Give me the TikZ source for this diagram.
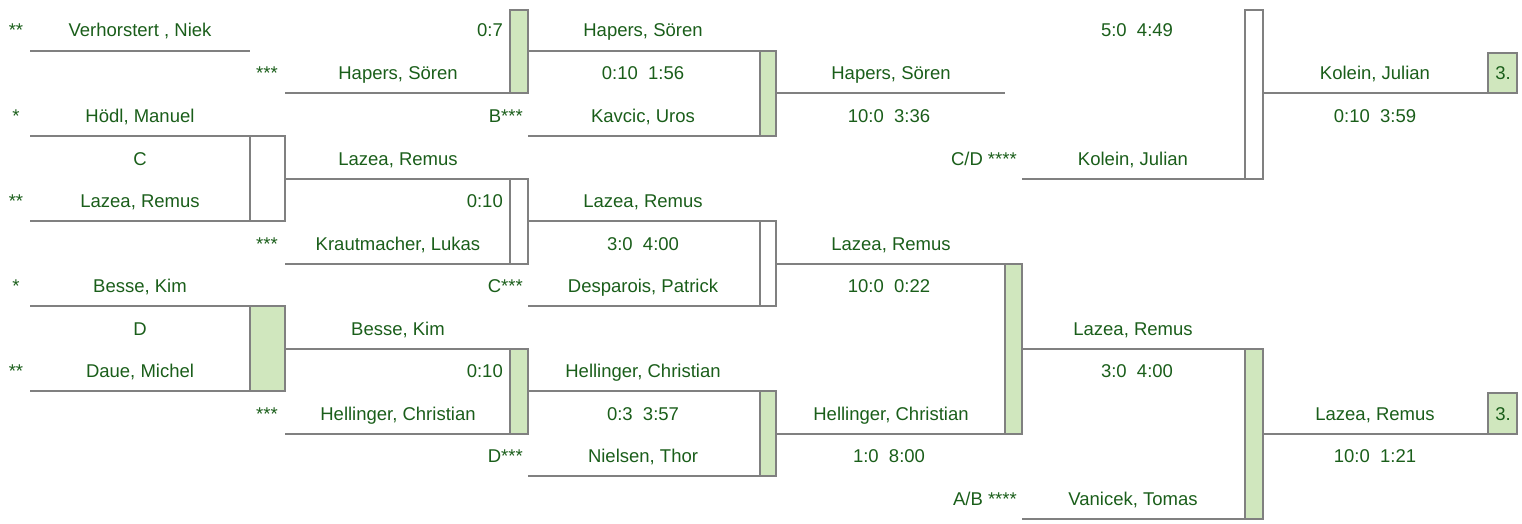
\documentclass[tikz,border=0pt]{standalone}
\usepackage{fontspec}
\setmainfont{Liberation Sans}
\definecolor{tc}{HTML}{1A5E1A}
\definecolor{lc}{HTML}{808080}
\definecolor{gf}{HTML}{D0E7BE}
\newcommand\slotline[4]{\coordinate (#1a) at (#2,#4); \coordinate (#1b) at (#3,#4); \draw[ln] (#1a) -- (#1b);}
\begin{document}
\begin{tikzpicture}[x=1pt,y=-1pt,
  t/.style={anchor=base,text=tc,inner sep=0pt,font=\fontsize{18.5}{22}\selectfont},
  te/.style={t,anchor=base east},
  ln/.style={draw=lc,line width=2pt},
  wbox/.style={draw=lc,line width=2pt,fill=white},
  gbox/.style={draw=lc,line width=2pt,fill=gf}]
\path[use as bounding box] (0,0) rectangle (1522,524);

% ---- bracket boxes ----
\draw[wbox] (250,136) rectangle (285,221);
\draw[gbox] (250,306) rectangle (285,391);
\draw[gbox] (510,10) rectangle (528,93.5);
\draw[wbox] (510,178.5) rectangle (528,263.5);
\draw[gbox] (510,348.5) rectangle (528,433.5);
\draw[gbox] (760,51) rectangle (776,136);
\draw[wbox] (760,221) rectangle (776,306);
\draw[gbox] (760,391) rectangle (776,476);
\draw[gbox] (1005,263.5) rectangle (1022,433.5);
\draw[wbox] (1245,10) rectangle (1263,178.5);
\draw[gbox] (1245,348.5) rectangle (1263,518.5);
\draw[gbox] (1488,53) rectangle (1517,93.5);
\draw[gbox] (1488,393) rectangle (1517,433.5);

% ---- slot lines ----
\slotline{r1s1}{30}{250}{51}
\slotline{r1s2}{30}{250}{136}
\slotline{r1s3}{30}{250}{221}
\slotline{r1s4}{30}{250}{306}
\slotline{r1s5}{30}{250}{391}
\slotline{r2s1}{285}{510}{93.5}
\slotline{r2s2}{285}{510}{178.5}
\slotline{r2s3}{285}{510}{263.5}
\slotline{r2s4}{285}{510}{348.5}
\slotline{r2s5}{285}{510}{433.5}
\slotline{r3s1}{528}{760}{51}
\slotline{r3s2}{528}{760}{136}
\slotline{r3s3}{528}{760}{221}
\slotline{r3s4}{528}{760}{306}
\slotline{r3s5}{528}{760}{391}
\slotline{r3s6}{528}{760}{476}
\slotline{r4s1}{776}{1005}{93.5}
\slotline{r4s2}{776}{1005}{263.5}
\slotline{r4s3}{776}{1005}{433.5}
\slotline{r5s1}{1022}{1245}{178.5}
\slotline{r5s2}{1022}{1245}{348.5}
\slotline{r5s3}{1022}{1245}{518.5}
\slotline{r6s1}{1263}{1488}{93.5}
\slotline{r6s2}{1263}{1488}{433.5}

% ---- round 1 ----
\node[t] (a1) at (16,37) {**};
\node[t] (n1) at (140,37) {Verhorstert , Niek};
\node[t] (a2) at (16,122) {*};
\node[t] (n2) at (140,122) {Hödl, Manuel};
\node[t] (gc) at (140,165) {C};
\node[t] (a3) at (16,207) {**};
\node[t] (n3) at (140,207) {Lazea, Remus};
\node[t] (a4) at (16,292) {*};
\node[t] (n4) at (140,292) {Besse, Kim};
\node[t] (gd) at (140,335) {D};
\node[t] (a5) at (16,377) {**};
\node[t] (n5) at (140,377) {Daue, Michel};

% ---- round 2 ----
\node[te] (s21) at (503,37) {0:7};
\node[t] (b1) at (267,80) {***};
\node[t] (m1) at (398,80) {Hapers, Sören};
\node[te] (q1) at (523,122) {B***};
\node[t] (m2) at (398,165) {Lazea, Remus};
\node[te] (s22) at (503,207) {0:10};
\node[t] (b2) at (267,250) {***};
\node[t] (m3) at (398,250) {Krautmacher, Lukas};
\node[te] (q2) at (523,292) {C***};
\node[t] (m4) at (398,335) {Besse, Kim};
\node[te] (s23) at (503,377) {0:10};
\node[t] (b3) at (267,420) {***};
\node[t] (m5) at (398,420) {Hellinger, Christian};
\node[te] (q3) at (523,462) {D***};

% ---- round 3 ----
\node[t] (p1) at (643,37) {Hapers, Sören};
\node[t] (s31) at (643,80) {0:10~~1:56};
\node[t] (p2) at (643,122) {Kavcic, Uros};
\node[t] (p3) at (643,207) {Lazea, Remus};
\node[t] (s32) at (643,250) {3:0~~4:00};
\node[t] (p4) at (643,292) {Desparois, Patrick};
\node[t] (p5) at (643,377) {Hellinger, Christian};
\node[t] (s33) at (643,420) {0:3~~3:57};
\node[t] (p6) at (643,462) {Nielsen, Thor};

% ---- round 4 ----
\node[t] (k1) at (891,80) {Hapers, Sören};
\node[t] (s41) at (889,122) {10:0~~3:36};
\node[te] (q4) at (1017,165) {C/D ****};
\node[t] (k2) at (891,250) {Lazea, Remus};
\node[t] (s42) at (889,292) {10:0~~0:22};
\node[t] (k3) at (891,420) {Hellinger, Christian};
\node[t] (s43) at (889,462) {1:0~~8:00};
\node[te] (q5) at (1017,505) {A/B ****};

% ---- round 5 ----
\node[t] (s51) at (1137,37) {5:0~~4:49};
\node[t] (f1) at (1133,165) {Kolein, Julian};
\node[t] (f2) at (1133,335) {Lazea, Remus};
\node[t] (s52) at (1137,377) {3:0~~4:00};
\node[t] (f3) at (1133,505) {Vanicek, Tomas};

% ---- round 6 ----
\node[t] (w1) at (1375,80) {Kolein, Julian};
\node[t] (s61) at (1375,122) {0:10~~3:59};
\node[t] (pl1) at (1503,80) {3.};
\node[t] (w2) at (1375,420) {Lazea, Remus};
\node[t] (s62) at (1375,462) {10:0~~1:21};
\node[t] (pl2) at (1503,420) {3.};
\end{tikzpicture}
\end{document}
